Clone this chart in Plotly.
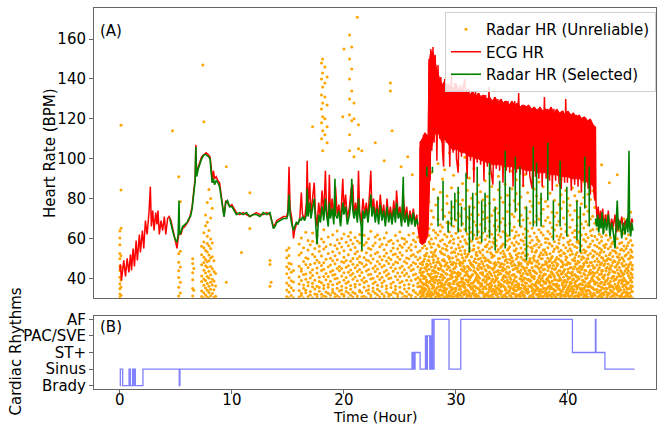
import plotly.graph_objects as go

# ---------------- ECG heart rate (red) ----------------
ECG_T = [0.0, 0.05, 0.14, 0.35, 0.5, 0.65, 0.8, 0.95, 1.04, 1.18,
         1.3, 1.45, 1.56, 1.74, 1.83, 2.01, 2.13, 2.28, 2.43, 2.6,
         2.72, 2.81, 2.93, 3.05, 3.2, 3.31, 3.4, 3.52, 3.67, 3.82,
         3.97, 4.1, 4.26, 4.4, 4.56,
         4.7, 4.85, 5.0, 5.1, 5.2, 5.3, 5.45, 5.6, 5.8, 6.0,
         6.15, 6.3, 6.45, 6.6, 6.72, 6.78, 6.85, 7.0, 7.15, 7.3,
         7.5, 7.7, 7.9, 8.05, 8.15, 8.25, 8.35, 8.45, 8.6, 8.75,
         8.9, 9.05, 9.2, 9.3, 9.45, 9.6, 9.8, 10.0, 10.2, 10.4,
         10.7, 11.0, 11.3, 11.6, 11.9, 12.2, 12.5, 12.8, 13.1, 13.4,
         13.55, 13.7, 13.85, 14.0, 14.3, 14.6, 14.9, 15.0, 15.1, 15.2,
         15.35, 15.5, 15.6, 15.75, 15.9, 16.05, 16.2, 16.3, 16.5, 16.65,
         16.72, 16.8, 16.95, 17.05, 17.2, 17.35, 17.45, 17.6, 17.75, 17.9,
         18.05, 18.2, 18.35, 18.45, 18.6, 18.7, 18.8, 18.95, 19.1, 19.25,
         19.4, 19.55, 19.7, 19.9, 20.0, 20.15, 20.3, 20.5, 20.65, 20.8,
         20.9, 21.05, 21.2, 21.3, 21.4, 21.55, 21.7, 21.85, 22.0, 22.15,
         22.3, 22.4, 22.5, 22.65, 22.8, 22.95, 23.1, 23.25, 23.4, 23.55,
         23.7, 23.85, 24.0, 24.15, 24.3, 24.45, 24.6, 24.7, 24.85, 25.0,
         25.15, 25.3, 25.45, 25.6, 25.75, 25.9, 26.05, 26.2, 26.35, 26.5,
         26.6, 26.7,
         26.75, 26.8, 26.85, 26.9, 26.95, 27.0, 27.05, 27.1, 27.15, 27.2,
         27.25, 27.3, 27.35, 27.4, 27.45, 27.5, 27.55, 27.6, 27.7, 27.75,
         27.85, 27.95, 28.05, 28.15, 28.3, 28.4, 28.55, 28.65, 28.8, 28.9,
         29.0, 29.15, 29.3, 29.45, 29.6, 29.75, 29.9, 30.05, 30.2, 30.35,
         30.5, 30.65, 30.8, 30.95, 31.0, 31.15, 31.3, 31.45, 31.6, 31.75,
         31.9, 32.05, 32.2, 32.35, 32.5, 32.65, 32.8, 32.95, 33.1, 33.3,
         33.45, 33.6, 33.75, 33.9, 34.05, 34.2, 34.35, 34.5, 34.65, 34.8,
         34.95, 35.1, 35.25, 35.4, 35.6, 35.75, 35.9, 36.0, 36.15, 36.3,
         36.45, 36.6, 36.8, 36.95, 37.1, 37.25, 37.4, 37.55, 37.7, 37.9,
         38.05, 38.2, 38.35, 38.5, 38.6, 38.75, 38.9, 39.05, 39.2, 39.4,
         39.55, 39.7, 39.8, 39.95, 40.1, 40.3, 40.45, 40.6, 40.75, 40.9,
         41.05, 41.2, 41.35, 41.5, 41.65, 41.8, 41.95, 42.0, 42.15, 42.3,
         42.4, 42.45,
         42.5, 42.6, 42.7, 42.8, 42.9, 43.0, 43.1, 43.2, 43.35, 43.5,
         43.6, 43.75, 43.9, 44.05, 44.2, 44.35, 44.5, 44.65, 44.8, 44.95,
         45.1, 45.25, 45.4, 45.55, 45.7, 45.8]
ECG_HR = [44, 47, 39, 49, 41, 50, 43, 52, 44, 55,
          46, 59, 49, 62, 53, 64, 55, 69, 62, 73,
          86, 66, 74, 64, 73, 67, 74, 62, 69, 64,
          71, 62, 70, 71, 69,
          65, 62, 57, 55, 60, 63, 62, 65, 66, 68,
          69, 72, 76, 84, 90, 107, 92, 96, 99, 101,
          102, 103, 102, 101, 96, 88, 94, 90, 91, 89,
          88, 82, 76, 71, 79, 78, 76, 77, 75, 73,
          72, 73, 72, 71, 72, 73, 72, 72, 73, 72,
          69, 66, 67, 69, 70, 71, 71, 74, 96, 75,
          70, 60, 64, 67, 68, 69, 83, 72, 70, 78,
          99, 76, 88, 72, 80, 88, 74, 66, 78, 70,
          84, 72, 94, 74, 68, 92, 72, 80, 70, 86,
          72, 77, 68, 90, 74, 82, 70, 76, 85, 87,
          72, 78, 70, 94, 74, 68, 80, 72, 78, 70,
          84, 94, 74, 80, 70, 79, 69, 82, 71, 77,
          68, 80, 70, 76, 69, 79, 70, 84, 72, 76,
          68, 82, 70, 76, 68, 74, 69, 75, 68, 72,
          66, 60,
          60, 106, 58, 108, 57, 110, 58, 112, 60, 113,
          58, 111, 61, 112, 64, 110, 80, 150, 89, 155,
          104, 156, 108, 152, 99, 147, 110, 141, 104, 96,
          140, 108, 138, 96, 143, 103, 138, 100, 93, 137,
          101, 136, 140, 98, 90, 135, 99, 134, 88, 134,
          98, 133, 97, 132, 89, 132, 96, 136, 95, 87,
          131, 95, 130, 94, 130, 88, 129, 94, 129, 93,
          128, 86, 129, 93, 133, 92, 127, 86, 127, 92,
          126, 91, 85, 126, 91, 125, 90, 125, 86, 131,
          90, 125, 89, 126, 84, 125, 89, 124, 88, 85,
          124, 88, 130, 88, 123, 84, 123, 87, 122, 86,
          121, 83, 121, 86, 120, 85, 119, 82, 118, 84,
          79, 116,
          78, 70, 76, 66, 74, 68, 75, 65, 72, 66,
          74, 64, 70, 66, 72, 63, 70, 65, 71, 64,
          69, 66, 72, 65, 70, 68]

# envelope of the dense AF band of the ECG heart rate
AF_T = [26.75, 27.0, 27.25, 27.5, 27.6, 27.75, 28.0, 28.25, 28.5, 28.75,
        29.0, 29.25, 29.5, 29.75, 30.0, 30.25, 30.5, 30.75, 31.0, 31.25,
        31.5, 31.75, 32.0, 32.25, 32.5, 32.75, 33.0, 33.25, 33.5, 33.75,
        34.0, 34.25, 34.5, 34.75, 35.0, 35.25, 35.5, 35.75, 36.0, 36.25,
        36.5, 36.75, 37.0, 37.25, 37.5, 37.75, 38.0, 38.25, 38.5, 38.75,
        39.0, 39.25, 39.5, 39.75, 40.0, 40.25, 40.5, 40.75, 41.0, 41.25,
        41.5, 41.75, 42.0, 42.25, 42.45]
AF_HI = [108, 110, 113, 111, 148, 154, 153, 146, 141, 137,
         139, 136, 137, 135, 138, 134, 136, 133, 135, 132,
         134, 131, 133, 131, 132, 130, 131, 129, 131, 128,
         130, 128, 129, 127, 129, 127, 128, 126, 127, 126,
         127, 125, 126, 124, 126, 124, 125, 124, 126, 123,
         125, 123, 124, 122, 124, 122, 123, 121, 122, 120,
         121, 119, 120, 117, 116]
AF_LO = [58, 57, 58, 62, 80, 104, 110, 114, 112, 108,
         110, 108, 106, 104, 105, 104, 103, 103, 102, 101,
         101, 100, 100, 99, 99, 98, 98, 97, 97, 97,
         97, 96, 96, 96, 96, 95, 95, 95, 95, 94,
         94, 94, 94, 93, 93, 93, 93, 92, 92, 92,
         92, 91, 91, 91, 91, 90, 90, 90, 90, 89,
         89, 88, 88, 86, 80]

# ---------------- Radar HR selected (green) ----------------
GREEN_T = [4.45, 4.6, 4.75, 4.9, 5.0, 5.1, 5.2, 5.28, 5.33, 5.45,
           5.6, 5.8, 6.0, 6.15, 6.3, 6.45, 6.6, 6.72, 6.78, 6.85,
           7.0, 7.15, 7.3, 7.5, 7.7, 7.9, 8.05, 8.15, 8.25, 8.35,
           8.45, 8.6, 8.75, 8.9, 9.05, 9.2, 9.3, 9.45, 9.6, 9.8,
           10.0, 10.2, 10.4, 10.7, 11.0, 11.3, 11.6, 11.9, 12.2, 12.5,
           12.8, 13.1, 13.4, 13.55, 13.7, 13.85, 14.0, 14.3, 14.6, 14.9,
           15.0, 15.1, 15.2, 15.35, 15.5, 15.6, 15.75, 15.9, 16.05, 16.2,
           16.3, 16.5, 16.65, 16.72, 16.8, 16.95, 17.05, 17.2, 17.35, 17.45,
           17.6, 17.75, 17.9, 18.05, 18.2, 18.35, 18.45, 18.6, 18.7, 18.8,
           18.95, 19.1, 19.2, 19.25, 19.4, 19.55, 19.7, 19.9, 20.0, 20.15,
           20.3, 20.5, 20.65, 20.7, 20.8, 20.9, 21.05, 21.2, 21.3, 21.4,
           21.55, 21.6, 21.7, 21.85, 22.0, 22.15, 22.3, 22.4, 22.5, 22.65,
           22.8, 22.95, 23.1, 23.25, 23.4, 23.55, 23.7, 23.85, 24.0, 24.15,
           24.3, 24.45, 24.6, 24.7, 24.85, 25.0, 25.15, 25.3, 25.35, 25.45,
           25.6, 25.75, 25.9, 26.05, 26.2, 26.35, 26.5, 26.6]
GREEN_HR = [70, 66, 63, 60, 59, 58, 62, 79, 62, 63,
            66, 67, 68, 70, 71, 75, 83, 89, 106, 91,
            95, 98, 100, 102, 102, 101, 100, 93, 88, 90,
            87, 89, 88, 86, 80, 74, 71, 78, 79, 76,
            76, 74, 72, 73, 72, 73, 71, 72, 72, 71,
            73, 72, 73, 69, 65, 66, 68, 69, 70, 70,
            72, 82, 72, 67, 64, 66, 68, 67, 70, 69,
            71, 69, 72, 85, 71, 78, 70, 75, 80, 70,
            57, 72, 68, 76, 69, 80, 72, 66, 78, 70,
            75, 67, 90, 72, 70, 74, 66, 78, 72, 76,
            67, 72, 80, 90, 74, 70, 75, 68, 80, 72,
            66, 54, 74, 70, 75, 68, 78, 82, 71, 76,
            68, 75, 67, 77, 69, 74, 66, 76, 68, 73,
            67, 75, 68, 78, 70, 73, 66, 91, 70, 68,
            73, 66, 72, 67, 73, 66, 70, 67]

# short selected radar segments during AF (time, low, high)
SPIKE_T = [27.4, 27.9, 28.4, 28.85, 29.3, 29.6, 29.9, 30.2, 30.5, 30.9,
           31.2, 31.5, 31.9, 32.3, 32.6, 33.0, 33.5, 33.9, 34.4, 34.8,
           35.3, 35.7, 36.3, 36.9, 37.2, 37.6, 38.2, 38.7, 39.3, 39.9,
           40.8, 41.1, 41.5, 41.9]
SPIKE_LO = [91, 93, 66, 69, 63, 66, 69, 63, 66, 63,
            53, 59, 61, 58, 63, 60, 54, 63, 55, 61,
            73, 66, 49, 66, 66, 66, 79, 59, 66, 61,
            59, 53, 75, 66]
SPIKE_HI = [96, 96, 81, 89, 69, 79, 83, 86, 76, 93,
            76, 83, 96, 79, 83, 98, 76, 89, 104, 86,
            101, 96, 76, 106, 98, 83, 108, 79, 99, 86,
            79, 76, 101, 96]

GREEN_POST_T = [42.45, 42.55, 42.65, 42.75, 42.85, 42.95, 43.05, 43.15, 43.3, 43.45,
                43.6, 43.75, 43.9, 44.05, 44.2, 44.3, 44.4, 44.5, 44.65, 44.8,
                44.95, 45.1, 45.25, 45.35, 45.45, 45.5, 45.6, 45.7, 45.8]
GREEN_POST_HR = [70, 66, 72, 63, 70, 65, 73, 62, 70, 64,
                 72, 61, 68, 63, 55, 70, 79, 64, 69, 60,
                 68, 62, 70, 63, 104, 66, 61, 68, 64]

# ---------------- Radar HR unreliable (orange), by time column ----------------
ORANGE_EARLY_T = [0.0, 0.1, 4.7, 5.25, 5.4, 6.5, 6.6, 7.3, 7.4, 7.5,
                  7.65, 7.8, 7.95, 8.1, 8.25, 8.4, 8.55, 9.5, 10.85, 11.6,
                  13.4, 13.5, 14.9, 15.1, 15.3, 15.5,
                  17.2, 18.0, 18.1, 18.3, 18.5, 19.9, 20.0, 20.5, 20.7, 20.9,
                  21.2, 21.3, 21.6, 22.8, 23.6, 24.15, 24.3, 25.1, 25.7, 26.1,
                  43.0, 43.7, 44.4]
ORANGE_EARLY_Y = [
    [30.4, 32.1, 34.8, 37.3, 40.6, 43.9, 46.2, 49.8, 52.5, 56.9, 60.3, 63.7],
    [31.5, 35.7, 39.2, 45.6, 51.4, 65.2, 84.3, 116.8],
    [114], [91.0, 31.2, 35.6, 40.4, 43.8, 48.1, 52.3], [32.7, 38.1, 45.7, 53.6, 78.4],
    [31.1, 34.9, 39.3, 42.8, 47.4, 49.8], [34, 45],
    [30.9, 33.7, 38.4, 41.2, 46.8, 51.9, 56.1], [147],
    [30.2, 32.8, 36.5, 39.7, 44.1, 47.9, 50.6, 55.3, 58.2, 62.9, 118.6],
    [31.6, 35.2, 38.9, 42.7, 46.3, 49.5, 54.0, 66.4, 71.8],
    [30.7, 34.1, 37.4, 40.9, 45.6, 48.3, 53.2, 57.5, 61.1, 68.2, 78.0],
    [30.0, 32.9, 36.1, 40.2, 43.6, 48.8, 51.7, 56.4, 64.0, 84.6],
    [31.3, 34.6, 38.0, 41.8, 45.9, 50.2, 55.0, 59.7, 70.3, 80.1],
    [32.4, 36.7, 39.5, 44.8, 50.9, 57.8, 75.2], [30.5, 34.3, 38.6, 43.5, 48.9],
    [31.0, 36.2, 42.4], [96, 38], [53], [83, 65], [49, 47, 36], [38],
    [30.8, 34.2, 37.7, 42.3, 45.8, 50.4, 54.1], [30.1, 33.0, 36.4, 40.3, 44.7, 47.6, 51.5, 55.2],
    [31.4, 35.3, 38.8, 43.1, 47.2], [30.3, 33.9, 38.2, 44.0],
    [116], [148, 140, 132, 125, 118, 110], [150, 143, 136, 128, 121, 114, 104],
    [146, 138, 131, 120, 112], [141, 127, 116, 108], [121], [155],
    [162, 150, 140, 130, 122, 112, 104], [156, 145, 134, 119], [128, 120, 101],
    [171], [117, 105], [104], [108], [99], [138, 134], [114], [96], [101], [92],
    [97], [88], [92]]

ORANGE_MID_T = [16.0, 16.2, 16.4, 16.6, 16.8, 17.0, 17.2, 17.4, 17.6, 17.8,
                18.0, 18.2, 18.4, 18.6, 18.8, 19.0, 19.2, 19.4, 19.6, 19.8,
                20.0, 20.2, 20.4, 20.6, 20.8, 21.0, 21.2, 21.4, 21.6, 21.8,
                22.0, 22.2, 22.4, 22.6, 22.8, 23.0, 23.2, 23.4, 23.6, 23.8,
                24.0, 24.2, 24.4, 24.6, 24.8, 25.0, 25.2, 25.4, 25.6, 25.8,
                26.0, 26.2, 26.4, 26.6]
ORANGE_MID_Y = [
    [30.6, 33.9, 37.2, 40.8, 46.1, 51.7, 57.3], [31.4, 32.5, 38.9, 43.6, 44.8, 52.9, 60.2],
    [30.2, 35.1, 36.7, 41.9, 48.5, 55.4], [32.8, 34.0, 39.6, 42.2, 47.0, 50.3, 63.1],
    [30.9, 36.3, 38.1, 45.5, 49.9, 54.2, 59.0], [31.7, 33.4, 40.2, 43.0, 46.9, 56.8],
    [30.1, 35.8, 37.5, 41.4, 44.3, 52.1, 58.6, 62.7], [32.2, 34.7, 39.0, 47.6, 50.8, 55.0],
    [30.5, 31.9, 36.0, 42.7, 45.2, 49.1, 57.9, 61.4], [33.6, 35.4, 38.4, 40.5, 48.0, 53.6, 56.1],
    [30.3, 32.0, 37.8, 43.9, 46.4, 51.2, 59.7], [31.1, 34.9, 36.5, 41.0, 44.6, 47.8, 54.7, 58.3, 64.4],
    [30.8, 33.2, 39.3, 42.4, 49.6, 55.9], [32.6, 35.6, 37.0, 40.9, 45.8, 52.5, 60.8],
    [30.0, 31.6, 38.6, 43.3, 46.7, 50.1, 57.0], [33.0, 34.4, 36.8, 41.7, 44.0, 48.8, 53.3, 61.9],
    [30.7, 32.3, 39.8, 42.0, 47.3, 51.4, 56.5], [31.3, 35.0, 37.3, 40.1, 45.0, 49.4, 54.9, 59.4, 63.8],
    [30.4, 33.7, 38.0, 43.8, 46.0, 52.7, 57.6], [32.1, 34.2, 36.1, 41.2, 44.9, 48.3, 55.7, 60.0],
    [30.9, 31.8, 39.1, 42.8, 47.9, 50.6, 53.9, 62.3], [33.4, 35.3, 37.6, 40.4, 45.6, 49.0, 58.1],
    [30.2, 32.7, 38.3, 43.1, 46.3, 51.9, 56.3, 61.1], [31.5, 34.6, 36.4, 41.6, 44.2, 48.6, 54.4, 59.2, 63.0],
    [30.6, 33.1, 39.5, 42.5, 47.1, 50.0, 57.4], [32.4, 35.7, 37.1, 40.7, 45.3, 52.3, 55.5, 60.5],
    [30.1, 31.2, 38.8, 43.4, 46.6, 49.8, 53.5, 58.8], [33.3, 34.1, 36.9, 41.3, 44.5, 48.1, 51.0, 57.7, 62.0],
    [30.8, 32.9, 39.2, 42.9, 47.4, 54.0], [31.0, 35.5, 37.9, 40.3, 45.9, 50.5, 56.7, 61.6],
    [30.3, 33.8, 38.5, 43.7, 46.8, 49.2, 52.8, 58.0], [32.5, 34.3, 36.2, 41.8, 44.4, 48.9, 55.1, 59.9],
    [30.5, 31.7, 39.7, 42.1, 47.7, 51.5, 54.6, 63.6], [33.5, 35.2, 37.4, 40.0, 45.1, 49.7, 56.4],
    [30.0, 32.6, 38.2, 43.5, 46.2, 52.4, 57.8, 60.7], [31.6, 34.5, 36.6, 41.1, 44.7, 48.4, 53.1, 61.8],
    [30.7, 33.6, 39.4, 42.6, 47.2, 50.9, 55.8, 59.6], [32.3, 35.9, 37.7, 40.6, 45.7, 49.3, 57.1],
    [30.4, 31.3, 38.7, 43.2, 46.5, 51.1, 54.3, 60.3], [33.1, 34.8, 36.3, 41.5, 44.1, 48.7, 52.6, 56.9, 62.9],
    [30.9, 32.2, 39.9, 42.3, 47.5, 50.4, 58.5], [31.8, 35.4, 37.2, 40.2, 45.4, 49.5, 53.7, 59.1],
    [30.2, 33.0, 38.1, 43.6, 46.9, 51.8, 55.2, 57.5], [32.7, 34.4, 36.0, 41.0, 44.8, 48.2, 52.2, 61.5],
    [30.6, 31.9, 39.3, 42.7, 47.8, 50.7, 54.8, 58.9], [33.2, 35.6, 37.8, 40.9, 45.2, 49.6, 53.0, 56.6, 63.3],
    [30.1, 32.4, 38.4, 43.0, 46.1, 51.6, 55.6, 60.1], [31.2, 34.7, 36.7, 41.4, 44.3, 48.5, 57.2, 59.8],
    [30.8, 33.3, 39.0, 42.4, 47.6, 50.2, 53.8, 58.4], [32.0, 35.1, 37.0, 40.8, 45.5, 49.9, 55.3, 61.7],
    [30.3, 31.5, 38.9, 43.9, 46.6, 51.3, 54.1, 56.8], [33.7, 34.0, 36.4, 41.7, 44.6, 48.0, 52.0, 59.3, 62.6],
    [30.5, 32.8, 39.6, 42.2, 47.3, 50.8, 55.9, 58.2], [31.9, 35.8, 37.5, 40.4, 45.8, 49.4, 53.2, 60.6]]

ORANGE_AF_T = [26.8, 27.01, 27.2, 27.39, 27.6, 27.81, 28.0, 28.19, 28.4, 28.61,
               28.8, 28.99, 29.2, 29.41, 29.6, 29.79, 30.0, 30.21, 30.4, 30.59,
               30.8, 31.01, 31.2, 31.39, 31.6, 31.81, 32.0, 32.19, 32.4, 32.61,
               32.8, 32.99, 33.2, 33.41, 33.6, 33.79, 34.0, 34.21, 34.4, 34.59,
               34.8, 35.01, 35.2, 35.39, 35.6, 35.81, 36.0, 36.19, 36.4, 36.61,
               36.8, 36.99, 37.2, 37.41, 37.6, 37.79, 38.0, 38.21, 38.4, 38.59,
               38.8, 39.01, 39.2, 39.39, 39.6, 39.81, 40.0, 40.19, 40.4, 40.61,
               40.8, 40.99, 41.2, 41.41, 41.6, 41.79, 42.0, 42.21, 42.4]
ORANGE_AF_Y = [
    [30.4, 32.7, 33.5, 36.1, 38.8, 39.6, 42.9, 44.2, 47.5, 50.3, 53.8, 59.1, 62.4, 71.6],
    [31.2, 31.9, 34.6, 35.3, 37.7, 41.4, 43.0, 46.8, 48.1, 55.2, 57.9, 66.3, 80.5],
    [30.1, 33.8, 35.0, 37.2, 40.1, 40.9, 45.3, 49.7, 51.5, 56.4, 63.0, 68.8, 75.2],
    [30.9, 32.2, 36.6, 38.3, 39.1, 43.7, 46.0, 47.2, 52.6, 54.9, 60.7, 72.3, 88.0],
    [31.6, 34.1, 34.9, 37.9, 41.8, 44.6, 48.9, 50.8, 58.3, 61.5, 65.0, 78.4],
    [30.3, 31.4, 33.2, 36.9, 39.9, 42.3, 45.8, 53.1, 55.6, 59.8, 67.2, 73.9, 93.1],
    [32.0, 35.5, 36.3, 38.6, 40.5, 44.0, 47.9, 49.3, 52.0, 57.4, 64.1, 70.6, 84.7],
    [30.7, 33.0, 34.4, 39.4, 41.1, 43.3, 46.5, 51.2, 54.4, 60.2, 62.9, 76.8],
    [31.1, 32.5, 35.8, 37.4, 42.6, 45.1, 48.4, 50.0, 56.7, 61.8, 69.5, 79.9, 97.6],
    [30.0, 34.3, 36.0, 38.1, 40.7, 44.9, 47.0, 53.5, 58.8, 63.6, 66.9, 83.2],
    [31.8, 33.6, 37.0, 39.2, 41.6, 43.9, 49.1, 52.3, 55.0, 59.4, 65.7, 74.4, 89.8],
    [30.6, 32.9, 35.2, 36.8, 40.3, 46.2, 48.6, 51.9, 57.1, 62.0, 71.1, 94.5],
    [30.2, 31.5, 34.8, 38.9, 42.1, 44.4, 47.7, 54.1, 56.2, 60.9, 68.0, 77.5, 81.3],
    [32.4, 33.3, 36.4, 37.6, 39.7, 45.5, 49.8, 50.6, 58.0, 63.3, 67.7, 73.0, 102.9],
    [31.0, 34.0, 35.6, 40.0, 41.9, 43.4, 46.9, 52.8, 55.4, 61.2, 70.2, 85.4],
    [30.5, 32.1, 37.3, 38.4, 42.8, 44.7, 48.0, 53.3, 57.6, 59.6, 66.1, 75.8, 91.7],
    [31.3, 33.9, 35.1, 39.0, 40.8, 45.9, 47.4, 51.0, 54.7, 62.6, 69.1, 78.9],
    [30.8, 32.6, 36.2, 37.8, 41.2, 43.1, 49.4, 52.2, 56.9, 60.4, 64.8, 72.6, 82.9, 96.9],
    [31.7, 34.5, 35.9, 38.0, 42.4, 46.4, 48.2, 53.9, 58.5, 63.9, 71.3, 77.2],
    [30.1, 33.1, 36.7, 39.5, 40.2, 44.1, 47.6, 50.4, 55.8, 61.0, 67.4, 79.3, 87.6],
    [32.3, 33.7, 35.4, 37.1, 41.5, 45.0, 48.8, 52.5, 54.0, 59.2, 64.6, 74.9, 100.8],
    [30.9, 31.6, 34.2, 38.7, 42.0, 43.6, 46.1, 51.4, 57.3, 62.2, 70.8, 84.2],
    [31.4, 32.8, 36.5, 39.3, 40.6, 44.8, 49.0, 53.6, 55.1, 60.0, 65.5, 69.9, 76.1, 90.3],
    [30.3, 34.7, 35.7, 37.5, 41.3, 46.7, 47.1, 50.9, 58.6, 63.1, 72.0, 80.2],
    [31.9, 33.4, 36.1, 38.2, 43.8, 45.6, 48.5, 54.6, 56.5, 61.7, 68.4, 75.5, 95.1],
    [30.6, 32.0, 35.3, 39.8, 40.4, 42.5, 47.8, 51.7, 53.0, 59.9, 66.6, 82.3],
    [31.2, 34.9, 37.7, 38.5, 41.0, 44.3, 46.3, 49.6, 55.3, 58.1, 63.4, 71.9, 78.0, 86.8],
    [30.0, 33.2, 36.0, 37.4, 42.7, 45.4, 50.1, 52.9, 57.8, 60.6, 67.0, 83.5],
    [32.5, 33.0, 34.6, 39.1, 41.7, 43.0, 47.3, 51.6, 54.3, 62.8, 69.7, 73.3, 79.4, 104.6],
    [30.4, 31.8, 35.8, 38.0, 40.9, 44.5, 48.7, 50.2, 56.0, 59.5, 65.2, 76.6, 88.9],
    [31.5, 32.3, 36.9, 39.6, 42.2, 46.6, 49.2, 53.4, 57.0, 61.3, 70.4, 81.0],
    [30.7, 34.4, 35.5, 37.2, 40.0, 43.2, 45.7, 48.3, 54.8, 58.4, 63.7, 68.6, 77.7, 92.6],
    [31.1, 33.5, 36.4, 38.8, 41.4, 44.9, 50.5, 52.1, 55.7, 62.1, 71.5, 86.1],
    [30.2, 32.4, 34.1, 37.9, 42.9, 45.2, 47.5, 51.3, 57.5, 60.1, 66.4, 74.1, 79.6, 98.7],
    [31.6, 33.3, 35.0, 39.4, 40.3, 43.5, 46.8, 53.2, 56.3, 59.0, 64.3, 69.2, 75.0],
    [30.5, 34.8, 36.6, 38.3, 41.8, 44.0, 48.1, 49.9, 54.5, 61.9, 65.9, 72.8, 84.4, 91.2],
    [32.2, 33.6, 35.7, 37.0, 42.3, 46.0, 47.2, 52.7, 55.5, 60.8, 68.1, 80.4],
    [30.8, 31.3, 36.3, 39.9, 40.7, 43.8, 45.3, 50.7, 53.7, 57.2, 63.5, 70.0, 78.2, 95.8],
    [31.0, 34.2, 35.2, 38.6, 41.1, 44.6, 48.9, 51.1, 56.8, 62.5, 66.7, 87.2],
    [30.3, 32.7, 37.6, 39.0, 42.6, 45.8, 47.9, 54.2, 58.9, 61.4, 73.6, 81.7, 101.5],
    [31.4, 33.9, 35.4, 38.1, 40.5, 43.3, 49.5, 52.4, 55.9, 59.7, 67.5, 76.9],
    [30.1, 32.6, 36.8, 37.7, 41.6, 46.3, 48.4, 50.3, 57.7, 64.0, 72.2, 85.0, 93.9],
    [32.1, 34.0, 35.6, 39.2, 42.0, 44.7, 47.0, 53.8, 56.6, 60.3, 65.8, 70.9, 79.1],
    [30.6, 31.7, 33.8, 38.4, 40.8, 45.1, 49.7, 51.8, 54.9, 58.2, 63.2, 74.6, 82.6, 89.5],
    [31.3, 34.6, 36.2, 37.3, 43.4, 46.5, 48.0, 52.6, 57.4, 61.6, 68.9, 77.3],
    [30.9, 32.8, 35.1, 39.7, 41.3, 44.2, 47.4, 50.6, 55.2, 59.3, 66.0, 71.7, 80.8, 97.9],
    [31.8, 33.1, 36.5, 38.9, 42.5, 45.6, 49.3, 53.0, 58.7, 62.3, 69.3, 86.4],
    [30.2, 34.3, 35.9, 37.8, 40.1, 43.7, 48.6, 51.5, 54.6, 60.5, 64.7, 75.4, 92.1],
    [32.6, 33.4, 34.7, 39.3, 41.9, 46.9, 47.6, 52.0, 56.1, 63.8, 70.1, 83.0],
    [30.4, 31.2, 36.0, 38.5, 42.8, 44.1, 48.8, 50.0, 57.9, 61.1, 67.8, 73.4, 78.7, 99.9],
    [31.5, 33.7, 35.3, 37.1, 40.6, 45.4, 47.7, 53.5, 55.0, 59.1, 65.1, 76.3],
    [30.0, 32.9, 36.7, 39.8, 41.0, 43.6, 49.1, 51.2, 56.4, 62.7, 68.3, 84.8, 94.8],
    [31.9, 34.5, 35.8, 38.2, 42.4, 46.1, 48.2, 54.0, 57.1, 60.7, 71.4, 81.5],
    [30.7, 32.0, 33.6, 37.5, 40.4, 44.8, 47.3, 50.8, 55.6, 58.6, 64.4, 69.6, 77.8, 88.3],
    [31.1, 34.1, 36.4, 39.5, 43.1, 45.5, 49.9, 52.9, 56.9, 63.0, 72.5, 79.8],
    [30.5, 33.2, 35.0, 38.7, 41.5, 44.3, 46.7, 51.9, 54.2, 61.8, 66.2, 74.7, 85.9, 96.5],
    [32.3, 33.8, 37.4, 38.0, 42.1, 47.1, 48.5, 53.1, 58.0, 60.0, 69.0, 78.5],
    [30.8, 31.5, 35.5, 39.1, 40.2, 43.9, 45.9, 50.1, 55.4, 59.8, 63.6, 70.5, 76.2, 90.9],
    [31.7, 34.7, 36.1, 37.6, 41.7, 46.4, 49.0, 52.3, 57.3, 62.4, 67.9, 82.7],
    [30.3, 32.5, 34.9, 38.6, 42.7, 45.0, 47.8, 51.0, 56.2, 60.9, 65.4, 73.1, 93.4],
    [31.2, 33.5, 36.9, 39.4, 40.9, 44.5, 48.3, 54.7, 58.4, 64.2, 71.0, 79.2],
    [30.1, 32.2, 35.7, 37.2, 43.0, 46.2, 47.5, 50.5, 55.8, 61.3, 66.8, 72.9, 86.6, 99.2],
    [32.0, 34.4, 36.3, 38.9, 41.2, 44.0, 49.6, 53.3, 57.6, 59.4, 68.7, 77.0],
    [30.6, 31.9, 33.3, 39.0, 42.2, 45.7, 48.7, 51.4, 54.1, 62.0, 64.9, 75.1, 82.0, 89.7],
    [31.4, 34.8, 35.4, 37.9, 40.7, 43.4, 47.0, 52.7, 56.7, 60.2, 70.3, 78.3],
    [30.9, 33.0, 36.6, 38.3, 41.9, 46.8, 49.2, 50.9, 55.3, 63.5, 67.1, 84.1, 95.5],
    [31.6, 32.4, 35.2, 39.6, 42.9, 44.6, 48.0, 53.7, 58.1, 61.5, 73.8, 80.0],
    [30.2, 34.2, 37.0, 38.1, 40.3, 45.3, 47.4, 51.7, 54.8, 59.0, 65.6, 71.8, 76.7, 91.4],
    [32.4, 33.3, 35.9, 39.2, 41.4, 43.2, 49.4, 52.2, 57.0, 62.9, 69.4, 85.3],
    [30.0, 31.1, 36.2, 37.7, 42.0, 46.0, 48.9, 50.4, 56.0, 60.6, 64.0, 74.0, 81.4, 100.4],
    [31.3, 34.6, 35.6, 38.8, 40.6, 44.7, 47.2, 53.0, 55.5, 58.3, 66.5, 78.8],
    [30.7, 32.8, 36.8, 39.7, 43.3, 45.2, 48.1, 51.1, 57.8, 63.3, 70.7, 83.6, 94.2],
    [31.8, 33.9, 35.1, 37.3, 41.1, 44.4, 49.5, 52.8, 56.3, 61.7, 67.3, 77.4],
    [30.4, 32.1, 34.5, 38.4, 42.5, 46.6, 47.6, 50.2, 54.4, 59.5, 65.3, 72.1, 80.6, 88.6],
    [31.0, 33.6, 36.5, 39.9, 40.0, 43.8, 48.4, 53.6, 58.5, 62.1, 68.5, 76.0],
    [30.5, 34.0, 35.8, 37.5, 41.6, 45.9, 49.8, 51.6, 55.7, 60.4, 66.9, 73.7, 82.2, 96.3],
    [32.2, 32.9, 36.0, 38.6, 42.3, 44.2, 47.9, 52.5, 57.2, 63.7, 69.8, 79.5],
    [30.8, 31.4, 35.3, 39.3, 40.8, 43.1, 46.4, 50.7, 54.0, 58.8, 64.5, 71.2, 84.0],
    [31.5, 34.3, 37.1, 38.0, 42.6, 45.4, 48.6, 53.4, 56.6, 61.0, 67.6, 75.6, 80.9]]

# extra low-heart-rate readings between the AF columns and after AF
ORANGE_LOW_T = [26.9, 27.1, 27.3, 27.5, 27.7, 27.9, 28.1, 28.3, 28.5, 28.7,
                28.9, 29.1, 29.3, 29.5, 29.7, 29.9, 30.1, 30.3, 30.5, 30.7,
                30.9, 31.1, 31.3, 31.5, 31.7, 31.9, 32.1, 32.3, 32.5, 32.7,
                32.9, 33.1, 33.3, 33.5, 33.7, 33.9, 34.1, 34.3, 34.5, 34.7,
                34.9, 35.1, 35.3, 35.5, 35.7, 35.9, 36.1, 36.3, 36.5, 36.7,
                36.9, 37.1, 37.3, 37.5, 37.7, 37.9, 38.1, 38.3, 38.5, 38.7,
                38.9, 39.1, 39.3, 39.5, 39.7, 39.9, 40.1, 40.3, 40.5, 40.7,
                40.9, 41.1, 41.3, 41.5, 41.7, 41.9, 42.1, 42.3,
                42.7, 42.9, 43.1, 43.3, 43.5, 43.7, 43.9, 44.1, 44.3, 44.5,
                44.7, 44.9, 45.1, 45.3, 45.5, 45.7]
ORANGE_LOW_Y = [
    [30.9, 33.4, 35.7, 38.2, 41.5, 45.1], [31.7, 32.9, 36.8, 39.9, 43.2, 48.6],
    [30.2, 34.5, 37.1, 40.6, 44.7, 51.3], [31.3, 33.1, 35.9, 42.2, 46.4, 49.0],
    [30.6, 32.4, 38.5, 41.1, 47.3, 57.2], [31.9, 34.9, 36.4, 39.6, 43.9, 50.8],
    [30.0, 33.6, 37.8, 42.8, 45.5, 53.4], [32.2, 35.3, 38.9, 40.9, 48.1],
    [30.8, 31.8, 34.0, 39.1, 44.4, 47.8, 56.0], [31.5, 36.0, 37.6, 41.9, 46.2, 52.7],
    [30.3, 33.9, 35.4, 40.3, 43.5, 49.5], [32.8, 34.2, 38.1, 42.5, 47.0, 54.6],
    [30.5, 31.0, 36.9, 39.5, 45.9, 51.1], [31.2, 35.6, 37.3, 41.4, 44.0, 48.3, 58.7],
    [30.1, 32.6, 34.7, 40.7, 46.8, 50.2], [33.3, 35.0, 38.6, 43.0, 45.2, 53.0],
    [30.7, 31.6, 37.0, 39.8, 42.4, 49.2], [32.0, 34.4, 36.3, 41.6, 47.5, 55.3],
    [30.4, 33.0, 38.3, 40.1, 44.6, 51.8], [31.8, 35.8, 37.9, 43.7, 46.0, 48.9],
    [30.2, 32.3, 34.1, 39.3, 42.9, 50.6, 57.9], [33.5, 36.6, 38.0, 41.2, 45.7, 52.2],
    [30.6, 31.4, 35.5, 40.4, 44.2, 47.7], [32.5, 34.6, 37.5, 42.0, 46.6, 54.1],
    [30.9, 33.7, 36.1, 39.0, 43.3, 49.8], [31.1, 35.2, 38.8, 41.7, 45.0, 51.5, 60.1],
    [30.0, 32.8, 34.3, 40.0, 47.2, 53.6], [33.0, 36.4, 37.2, 42.6, 44.9, 48.5],
    [30.5, 31.3, 35.6, 39.4, 46.1, 50.4], [32.2, 34.8, 38.4, 41.0, 43.8, 55.8],
    [30.8, 33.2, 36.9, 40.8, 45.4, 49.1], [31.4, 35.4, 37.7, 42.3, 47.9, 52.9],
    [30.3, 32.1, 34.5, 39.7, 44.5, 51.0, 58.3], [33.6, 36.2, 38.7, 41.3, 46.3, 48.0],
    [30.1, 31.9, 35.1, 40.2, 43.6, 53.3], [32.7, 34.0, 37.4, 42.7, 45.8, 50.0],
    [30.6, 33.5, 36.7, 39.2, 44.1, 47.4, 56.4], [31.7, 35.9, 38.2, 41.5, 46.9, 52.4],
    [30.2, 32.5, 34.2, 40.5, 43.1, 49.6], [33.1, 36.0, 37.8, 42.1, 45.6, 54.8],
    [30.9, 31.2, 35.3, 39.6, 47.6, 51.2], [32.4, 34.7, 38.0, 41.8, 44.3, 48.7],
    [30.4, 33.8, 36.5, 40.6, 46.5, 53.9, 61.2], [31.6, 35.5, 37.1, 43.4, 45.1, 50.7],
    [30.0, 32.0, 34.9, 39.8, 42.8, 47.1], [33.4, 36.8, 38.6, 41.1, 46.0, 52.6],
    [30.7, 31.5, 35.0, 40.1, 44.8, 49.3, 57.0], [32.9, 34.1, 37.6, 42.4, 45.3, 51.4],
    [30.3, 33.3, 36.2, 39.4, 43.9, 48.2], [31.2, 35.7, 38.8, 41.6, 47.7, 55.6],
    [30.6, 32.2, 34.6, 40.9, 44.0, 50.3], [33.7, 36.3, 37.3, 42.9, 46.2, 53.1],
    [30.1, 31.7, 35.2, 39.1, 45.7, 48.8, 59.4], [32.3, 34.4, 38.3, 41.4, 43.5, 51.7],
    [30.8, 33.1, 36.6, 40.3, 46.7, 49.9], [31.4, 35.0, 37.9, 42.2, 44.6, 54.3],
    [30.5, 32.6, 34.8, 39.5, 47.4, 52.0], [33.2, 36.1, 38.4, 41.0, 45.5, 48.4, 57.6],
    [30.2, 31.1, 35.8, 40.7, 43.3, 50.1], [32.1, 34.5, 37.0, 42.0, 46.4, 53.5],
    [30.7, 33.9, 36.4, 39.3, 44.9, 49.4], [31.9, 35.4, 38.9, 41.9, 47.0, 55.2],
    [30.4, 32.4, 34.3, 40.0, 43.7, 51.6, 60.7], [33.5, 36.7, 37.5, 42.6, 45.9, 48.1],
    [30.0, 31.8, 35.7, 39.0, 44.4, 52.5], [32.6, 34.2, 38.1, 41.2, 46.8, 50.5],
    [30.9, 33.6, 36.0, 40.4, 43.0, 47.6, 56.8], [31.3, 35.1, 37.7, 42.5, 45.4, 53.7],
    [30.3, 32.9, 34.4, 39.7, 44.7, 49.0], [33.0, 36.5, 38.6, 41.3, 47.3, 51.9],
    [30.6, 31.4, 35.9, 40.8, 43.4, 48.6, 58.9], [32.0, 34.9, 37.2, 42.8, 46.1, 54.0],
    [30.1, 33.3, 36.8, 39.1, 45.6, 50.9], [31.6, 35.6, 38.2, 41.7, 44.1, 52.8],
    [30.8, 32.3, 34.0, 40.2, 47.8, 49.7], [33.8, 36.2, 37.4, 43.1, 46.3, 55.9],
    [30.4, 31.0, 35.4, 39.9, 42.7, 48.0, 61.5], [32.5, 34.6, 38.7, 41.4, 45.1, 51.3],
    [30.7, 33.2, 36.3, 39.8, 44.3, 48.5], [31.9, 34.0, 37.5, 42.1, 46.8, 53.0],
    [30.2, 32.7, 35.2, 40.5, 43.9, 50.2], [33.1, 36.9, 38.3, 41.7, 47.3, 55.5],
    [30.5, 31.6, 34.8, 39.2, 45.4, 49.3], [32.4, 35.5, 37.0, 42.9, 44.6, 51.9],
    [30.9, 33.5, 36.1, 40.1, 46.5, 57.4], [31.4, 34.7, 38.8, 41.1, 43.2, 48.9],
    [30.0, 32.2, 35.6, 39.5, 45.8, 52.7], [33.4, 36.4, 37.8, 42.4, 47.9, 50.6],
    [30.3, 31.2, 34.3, 40.9, 44.0, 54.2], [32.8, 35.9, 38.5, 41.6, 46.3, 49.8],
    [30.6, 33.0, 36.7, 39.0, 43.7, 51.2], [31.7, 34.5, 37.3, 42.7, 45.0, 56.3],
    [30.1, 32.5, 35.1, 40.3, 47.1, 50.0], [33.6, 36.0, 38.2, 41.9, 44.9, 53.4]]

ORANGE_LATE_T = [42.6, 42.8, 43.0, 43.2, 43.4, 43.6, 43.8, 44.0, 44.2, 44.4,
                 44.6, 44.8, 45.0, 45.2, 45.4, 45.6, 45.75]
ORANGE_LATE_Y = [
    [30.3, 32.9, 34.4, 37.8, 40.6, 43.1, 46.7, 49.9, 52.4, 56.0, 59.5, 64.8],
    [31.1, 33.6, 36.2, 39.4, 41.8, 45.3, 48.2, 51.6, 55.1, 57.7, 62.1, 68.9],
    [30.7, 32.2, 35.5, 38.1, 42.5, 44.0, 47.6, 50.5, 54.3, 58.8, 60.9],
    [31.6, 34.8, 36.9, 39.9, 41.2, 46.4, 49.0, 53.2, 56.5, 63.4],
    [30.0, 33.3, 35.0, 38.7, 43.7, 45.1, 48.8, 51.3, 57.1, 61.6, 71.4],
    [31.9, 32.6, 37.4, 40.2, 42.0, 47.2, 50.0, 54.9, 59.2],
    [30.5, 34.1, 36.5, 38.4, 44.6, 46.0, 49.5, 52.7, 55.8, 60.4, 66.2],
    [31.3, 33.0, 35.8, 41.0, 43.4, 47.9, 51.0, 54.0, 58.3, 65.1],
    [30.2, 32.4, 37.1, 39.6, 42.9, 45.7, 48.4, 53.6, 56.9, 61.2],
    [31.7, 34.5, 36.0, 40.7, 44.2, 46.9, 50.8, 55.4, 59.9],
    [30.9, 33.8, 35.3, 38.9, 41.5, 45.5, 49.2, 52.1, 57.5, 63.9],
    [31.0, 32.1, 37.6, 39.2, 43.0, 47.4, 50.3, 54.6, 58.0],
    [30.4, 34.3, 36.6, 40.0, 42.3, 46.2, 48.6, 53.9, 56.2, 62.5, 69.8],
    [31.5, 33.1, 35.6, 38.3, 44.8, 47.0, 51.8, 55.0, 60.0],
    [30.6, 32.7, 37.9, 41.4, 43.8, 45.9, 49.7, 52.9, 57.9, 61.9],
    [31.2, 34.9, 36.3, 39.0, 42.7, 48.0, 51.4, 54.4, 59.0, 73.2],
    [30.1, 33.4, 35.9, 40.4, 44.4, 46.6, 50.6, 56.6]]

# ---------------- Cardiac rhythm annotation ----------------
RHYTHM_LABELS = ["Brady", "Sinus", "ST+", "PAC/SVE", "AF"]
RHYTHM_T = [0.0, 0.04, 0.25, 0.82, 0.94, 1.14, 1.2, 1.26, 1.38, 2.06,
            5.3, 5.36, 26.08, 26.12, 26.16, 26.2, 26.25, 26.3, 26.35, 26.8,
            27.28, 27.35, 27.45, 27.66, 27.75, 27.8, 27.87, 27.93, 28.05, 29.38,
            30.43, 40.4, 42.45, 42.5, 43.3, 45.94]
RHYTHM_LEVEL = [0, 1, 0, 1, 0, 1, 0, 1, 0, 1,
                0, 1, 2, 1, 2, 1, 2, 1, 2, 1,
                3, 1, 3, 1, 3, 1, 4, 1, 4, 1,
                4, 2, 4, 2, 1, 1]

X_RANGE = [-2.31, 47.86]
AXIS_COLOR = "#666666"

# ---------------- build figure ----------------
ox, oy = [], []
for tl, yl in ((ORANGE_EARLY_T, ORANGE_EARLY_Y), (ORANGE_MID_T, ORANGE_MID_Y),
               (ORANGE_AF_T, ORANGE_AF_Y), (ORANGE_LOW_T, ORANGE_LOW_Y),
               (ORANGE_LATE_T, ORANGE_LATE_Y)):
    for t, ys in zip(tl, yl):
        for y in ys:
            ox.append(t)
            oy.append(y)

gx = list(GREEN_T) + [None]
gy = list(GREEN_HR) + [None]
for t, lo, hi in zip(SPIKE_T, SPIKE_LO, SPIKE_HI):
    gx += [t, t, None]
    gy += [lo, hi, None]
gx += GREEN_POST_T
gy += GREEN_POST_HR

fig = go.Figure()
fig.add_trace(go.Scatter(x=ox, y=oy, mode="markers", name="Radar HR (Unreliable)",
                         marker=dict(color="orange", size=3, line=dict(width=0)),
                         xaxis="x", yaxis="y"))
fig.add_trace(go.Scatter(x=AF_T + AF_T[::-1], y=AF_HI + AF_LO[::-1], mode="lines",
                         fill="toself", fillcolor="red", line=dict(color="red", width=1),
                         showlegend=False, hoverinfo="skip", xaxis="x", yaxis="y"))
fig.add_trace(go.Scatter(x=ECG_T, y=ECG_HR, mode="lines", name="ECG HR",
                         line=dict(color="red", width=1.5), xaxis="x", yaxis="y"))
fig.add_trace(go.Scatter(x=gx, y=gy, mode="lines", name="Radar HR (Selected)",
                         line=dict(color="green", width=1.6), connectgaps=False,
                         xaxis="x", yaxis="y"))
fig.add_trace(go.Scatter(x=RHYTHM_T, y=RHYTHM_LEVEL, mode="lines", showlegend=False,
                         line=dict(color="rgba(0,0,255,0.5)", width=1.3, shape="hv"),
                         xaxis="x2", yaxis="y2"))

axis_common = dict(showgrid=False, zeroline=False, showline=True, mirror=True,
                   linecolor=AXIS_COLOR, linewidth=1, tickcolor=AXIS_COLOR)

fig.update_layout(
    width=657, height=424,
    margin=dict(l=94, r=1, t=8, b=35),
    paper_bgcolor="white", plot_bgcolor="white",
    font=dict(family="DejaVu Sans", size=15, color="black"),
    xaxis=dict(domain=[0, 1], range=X_RANGE, showticklabels=False, ticks="",
               anchor="y", **axis_common),
    yaxis=dict(domain=[0.2396, 1], range=[30.3, 175.6], tickvals=[40, 60, 80, 100, 120, 140, 160],
               ticks="outside", ticklen=4, anchor="x", **axis_common),
    xaxis2=dict(domain=[0, 1], range=X_RANGE, tickvals=[0, 10, 20, 30, 40],
                ticks="outside", ticklen=4, ticklabelstandoff=-7, anchor="y2", **axis_common),
    yaxis2=dict(domain=[0, 0.1916], range=[-0.2, 4.2], tickvals=[0, 1, 2, 3, 4],
                ticktext=RHYTHM_LABELS, ticks="outside", ticklen=4, anchor="x2", **axis_common),
    legend=dict(x=1, xanchor="right", y=0.9895, yanchor="top",
                bgcolor="rgba(255,255,255,0.85)", bordercolor="#d0d0d0", borderwidth=1,
                font=dict(size=15), tracegroupgap=0),
    showlegend=True,
    annotations=[
        dict(text="(A)", x=0.008, y=0.9396, xref="paper", yref="paper",
             xanchor="left", yanchor="middle", showarrow=False, font=dict(size=15)),
        dict(text="(B)", x=0.008, y=0.1627, xref="paper", yref="paper",
             xanchor="left", yanchor="middle", showarrow=False, font=dict(size=15)),
        dict(text="Heart Rate (BPM)", x=-0.0783, y=0.6194, xref="paper", yref="paper",
             xanchor="center", yanchor="middle", textangle=-90, showarrow=False,
             font=dict(size=15)),
        dict(text="Cardiac Rhythms", x=-0.1379, y=0.0971, xref="paper", yref="paper",
             xanchor="center", yanchor="middle", textangle=-90, showarrow=False,
             font=dict(size=15)),
        dict(text="Time (Hour)", x=0.5, y=-0.0722, xref="paper", yref="paper",
             xanchor="center", yanchor="middle", showarrow=False, font=dict(size=14)),
    ],
)

fig.write_html("out.html", config={"displayModeBar": False},
               post_script="document.body.style.margin='0';"
                           "document.documentElement.style.overflow='hidden';")
